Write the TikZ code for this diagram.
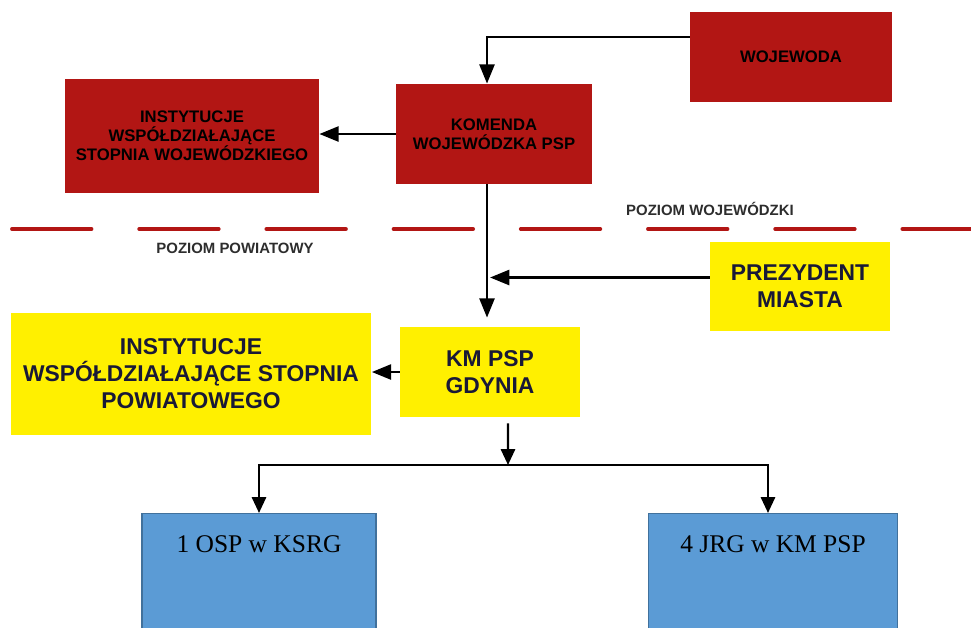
\documentclass[tikz,border=0pt]{standalone}
\usepackage{fontspec}
\setmainfont{Liberation Sans}
\newfontfamily\timesfont{Liberation Serif}
\usetikzlibrary{arrows.meta}
\definecolor{boxred}{RGB}{178,22,20}
\definecolor{boxyellow}{RGB}{255,240,0}
\definecolor{boxblue}{RGB}{91,155,213}
\definecolor{boxblueedge}{RGB}{65,113,156}
\definecolor{yellowtext}{RGB}{25,25,55}
\definecolor{leveltext}{RGB}{45,45,45}

\begin{document}
\begin{tikzpicture}[x=0.02cm,y=-0.02cm,
    redbox/.style={fill=boxred, inner sep=0pt, align=center,
      font=\fontsize{9.5}{10.8}\selectfont\bfseries},
    yellowbox/.style={fill=boxyellow, inner sep=0pt, align=center, text=yellowtext,
      font=\fontsize{13}{15.3}\selectfont\bfseries},
    bluebox/.style={fill=boxblue, draw=boxblueedge, line width=0.8pt, inner sep=0pt,
      anchor=north, text height=0.78cm, text depth=3cm,
      font=\timesfont\fontsize{14.5}{17}\selectfont},
    linkarrow/.style={-{Triangle[length=11pt,width=8.5pt]}, line width=1.6pt},
    smallarrow/.style={-{Triangle[length=9pt,width=8pt]}, line width=1.4pt},
    levelline/.style={draw=boxred, line width=2.2pt, line cap=round},
    leveltxt/.style={text=leveltext, anchor=base, font=\fontsize{8.5}{10}\selectfont\bfseries}]
      \clip (0,0) rectangle (971,627);
      % Draw the voivodeship level
      \node (wojewoda) [redbox, minimum width=4.04cm, minimum height=1.8cm] at (791,57) {WOJEWODA};
      \node (komenda) [redbox, minimum width=3.92cm, minimum height=2cm] at (494,134) {KOMENDA\\WOJEWÓDZKA PSP};
      \node (instwoj) [redbox, minimum width=5.08cm, minimum height=2.28cm] at (192,136)
        {INSTYTUCJE\\WSPÓŁDZIAŁAJĄCE\\STOPNIA WOJEWÓDZKIEGO};
      % Draw the border between levels
      \foreach \i in {0,...,7}
        \draw [levelline] ({12+127.2*\i},229) -- ++(79.5,0);
      \node (poziomwoj) [leveltxt] at (710,215) {POZIOM WOJEWÓDZKI};
      \node (poziompow) [leveltxt] at (235,253) {POZIOM POWIATOWY};
      % Draw the county level
      \node (prezydent) [yellowbox, minimum width=3.6cm, minimum height=1.78cm] at (800,286) {PREZYDENT\\MIASTA};
      \node (kmpsp) [yellowbox, minimum width=3.6cm, minimum height=1.8cm] at (490,372) {KM PSP\\GDYNIA};
      \node (instpow) [yellowbox, minimum width=7.22cm, minimum height=2.44cm] at (191,374)
        {INSTYTUCJE\\WSPÓŁDZIAŁAJĄCE STOPNIA\\POWIATOWEGO};
      % Draw the units
      \node (osp) [bluebox, minimum width=4.68cm] at (259,513) {1 OSP w KSRG};
      \node (jrg) [bluebox, minimum width=4.98cm] at (773,513) {4 JRG w KM PSP};
      % Draw the links
      \coordinate (trunk) at (487,0);
      \coordinate (split) at (508,465);
      \draw [linkarrow] ([yshift=0.4cm]wojewoda.west) -| (komenda.north -| trunk);
      \draw [linkarrow] (komenda.west) -- (komenda.west -| instwoj.east);
      \draw [linkarrow] (komenda.south -| trunk) -- ([yshift=0.18cm]kmpsp.north -| trunk);
      \draw [linkarrow] ([yshift=0.17cm]prezydent.west) -- ([yshift=0.17cm,xshift=0.06cm]prezydent.west -| trunk);
      \draw [linkarrow] (kmpsp.west) -- (kmpsp.west -| instpow.east);
      \draw [smallarrow] ([xshift=0.36cm,yshift=-0.12cm]kmpsp.south) -- (split);
      \draw [smallarrow] (split) -| (osp.north);
      \draw [smallarrow] (split) -| ([xshift=-0.1cm]jrg.north);
    \end{tikzpicture}
\end{document}
